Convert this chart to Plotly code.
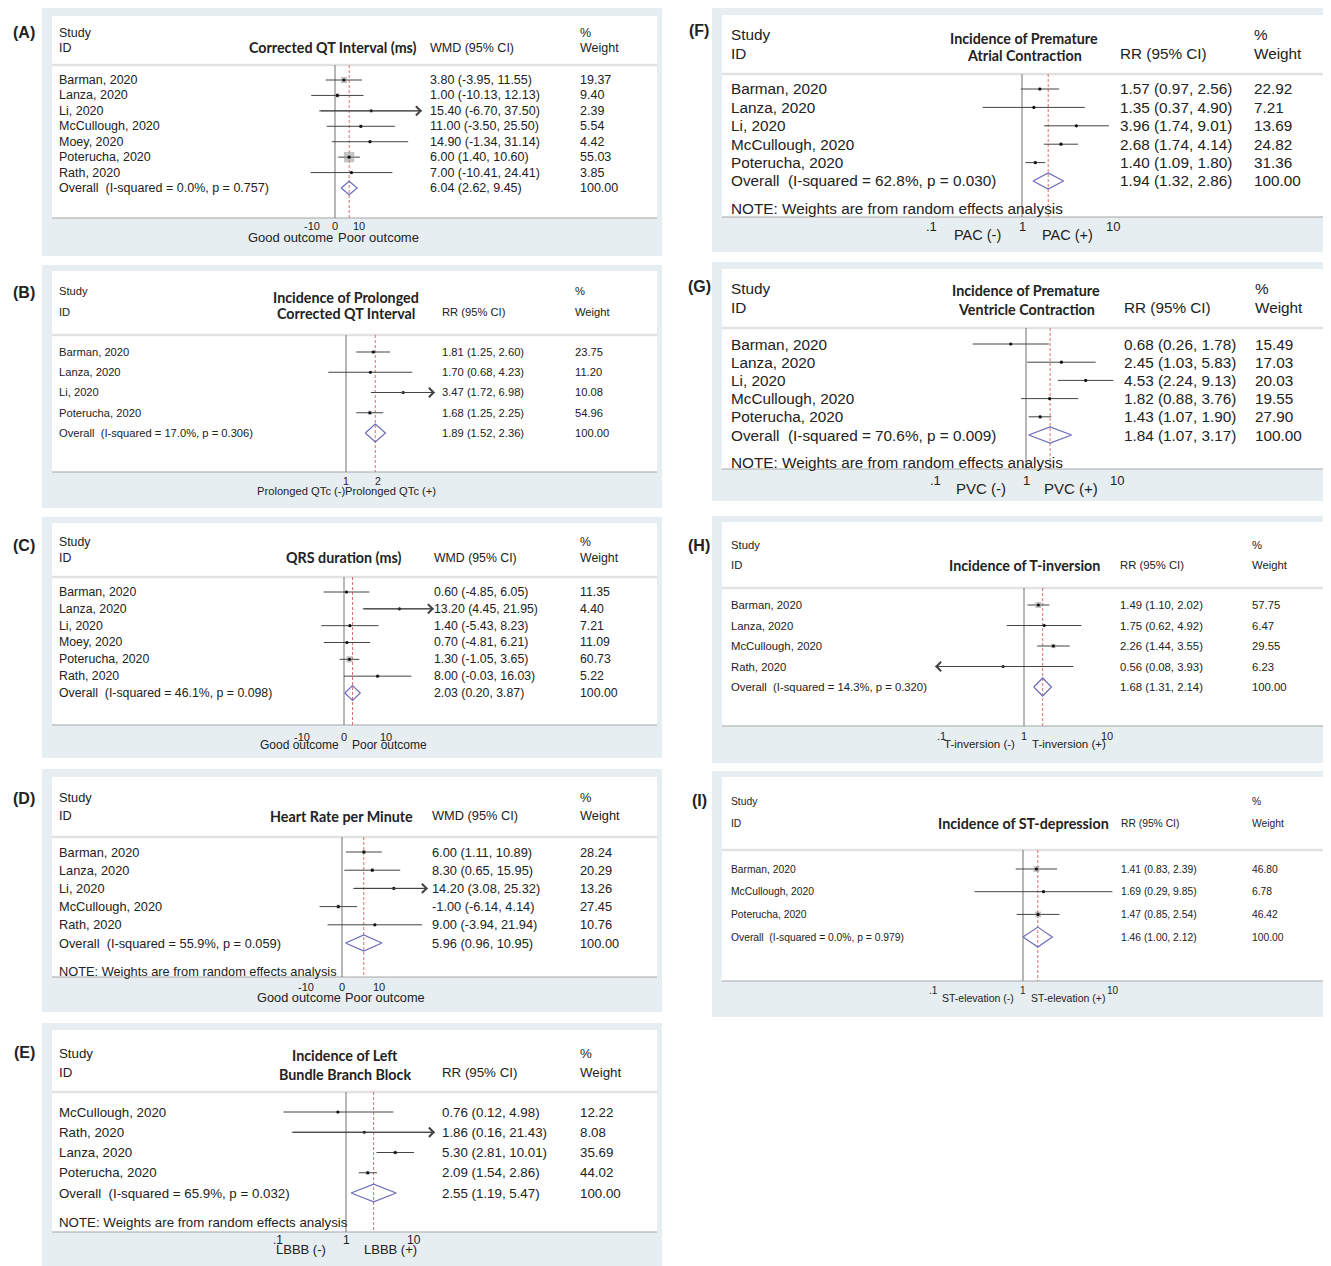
import math
import plotly.graph_objects as go

# ------------------------------------------------------------------ data
studies_A = ["Barman, 2020", "Lanza, 2020", "Li, 2020", "McCullough, 2020", "Moey, 2020", "Poterucha, 2020", "Rath, 2020"]
est_A = [3.80, 1.00, 15.40, 11.00, 14.90, 6.00, 7.00]
lo_A = [-3.95, -10.13, -6.70, -3.50, -1.34, 1.40, -10.41]
hi_A = [11.55, 12.13, 37.50, 25.50, 31.14, 10.60, 24.41]
wt_A = [19.37, 9.40, 2.39, 5.54, 4.42, 55.03, 3.85]
overall_A = [6.04, 2.62, 9.45]
i2_A, p_A = 0.0, 0.757

studies_B = ["Barman, 2020", "Lanza, 2020", "Li, 2020", "Poterucha, 2020"]
est_B = [1.81, 1.70, 3.47, 1.68]
lo_B = [1.25, 0.68, 1.72, 1.25]
hi_B = [2.60, 4.23, 6.98, 2.25]
wt_B = [23.75, 11.20, 10.08, 54.96]
overall_B = [1.89, 1.52, 2.36]
i2_B, p_B = 17.0, 0.306

studies_C = ["Barman, 2020", "Lanza, 2020", "Li, 2020", "Moey, 2020", "Poterucha, 2020", "Rath, 2020"]
est_C = [0.60, 13.20, 1.40, 0.70, 1.30, 8.00]
lo_C = [-4.85, 4.45, -5.43, -4.81, -1.05, -0.03]
hi_C = [6.05, 21.95, 8.23, 6.21, 3.65, 16.03]
wt_C = [11.35, 4.40, 7.21, 11.09, 60.73, 5.22]
overall_C = [2.03, 0.20, 3.87]
i2_C, p_C = 46.1, 0.098

studies_D = ["Barman, 2020", "Lanza, 2020", "Li, 2020", "McCullough, 2020", "Rath, 2020"]
est_D = [6.00, 8.30, 14.20, -1.00, 9.00]
lo_D = [1.11, 0.65, 3.08, -6.14, -3.94]
hi_D = [10.89, 15.95, 25.32, 4.14, 21.94]
wt_D = [28.24, 20.29, 13.26, 27.45, 10.76]
overall_D = [5.96, 0.96, 10.95]
i2_D, p_D = 55.9, 0.059

studies_E = ["McCullough, 2020", "Rath, 2020", "Lanza, 2020", "Poterucha, 2020"]
est_E = [0.76, 1.86, 5.30, 2.09]
lo_E = [0.12, 0.16, 2.81, 1.54]
hi_E = [4.98, 21.43, 10.01, 2.86]
wt_E = [12.22, 8.08, 35.69, 44.02]
overall_E = [2.55, 1.19, 5.47]
i2_E, p_E = 65.9, 0.032

studies_F = ["Barman, 2020", "Lanza, 2020", "Li, 2020", "McCullough, 2020", "Poterucha, 2020"]
est_F = [1.57, 1.35, 3.96, 2.68, 1.40]
lo_F = [0.97, 0.37, 1.74, 1.74, 1.09]
hi_F = [2.56, 4.90, 9.01, 4.14, 1.80]
wt_F = [22.92, 7.21, 13.69, 24.82, 31.36]
overall_F = [1.94, 1.32, 2.86]
i2_F, p_F = 62.8, 0.030

studies_G = ["Barman, 2020", "Lanza, 2020", "Li, 2020", "McCullough, 2020", "Poterucha, 2020"]
est_G = [0.68, 2.45, 4.53, 1.82, 1.43]
lo_G = [0.26, 1.03, 2.24, 0.88, 1.07]
hi_G = [1.78, 5.83, 9.13, 3.76, 1.90]
wt_G = [15.49, 17.03, 20.03, 19.55, 27.90]
overall_G = [1.84, 1.07, 3.17]
i2_G, p_G = 70.6, 0.009

studies_H = ["Barman, 2020", "Lanza, 2020", "McCullough, 2020", "Rath, 2020"]
est_H = [1.49, 1.75, 2.26, 0.56]
lo_H = [1.10, 0.62, 1.44, 0.08]
hi_H = [2.02, 4.92, 3.55, 3.93]
wt_H = [57.75, 6.47, 29.55, 6.23]
overall_H = [1.68, 1.31, 2.14]
i2_H, p_H = 14.3, 0.320

studies_I = ["Barman, 2020", "McCullough, 2020", "Poterucha, 2020"]
est_I = [1.41, 1.69, 1.47]
lo_I = [0.83, 0.29, 0.85]
hi_I = [2.39, 9.85, 2.54]
wt_I = [46.80, 6.78, 46.42]
overall_I = [1.46, 1.00, 2.12]
i2_I, p_I = 0.0, 0.979

measures = {"A": "WMD", "B": "RR", "C": "WMD", "D": "WMD", "E": "RR", "F": "RR", "G": "RR", "H": "RR", "I": "RR"}
titles = {
    "A": ["Corrected QT Interval (ms)"],
    "B": ["Incidence of Prolonged", "Corrected QT Interval"],
    "C": ["QRS duration (ms)"],
    "D": ["Heart Rate per Minute"],
    "E": ["Incidence of Left", "Bundle Branch Block"],
    "F": ["Incidence of Premature", "Atrial Contraction"],
    "G": ["Incidence of Premature", "Ventricle Contraction"],
    "H": ["Incidence of T-inversion"],
    "I": ["Incidence of ST-depression"],
}
favours = {
    "A": ["Good outcome", "Poor outcome"],
    "B": ["Prolonged QTc (-)", "Prolonged QTc (+)"],
    "C": ["Good outcome", "Poor outcome"],
    "D": ["Good outcome", "Poor outcome"],
    "E": ["LBBB (-)", "LBBB (+)"],
    "F": ["PAC (-)", "PAC (+)"],
    "G": ["PVC (-)", "PVC (+)"],
    "H": ["T-inversion (-)", "T-inversion (+)"],
    "I": ["ST-elevation (-)", "ST-elevation (+)"],
}
tick_vals = {
    "A": [-10, 0, 10], "B": [1, 2], "C": [-10, 0, 10], "D": [-10, 0, 10],
    "E": [0.1, 1, 10], "F": [0.1, 1, 10], "G": [0.1, 1, 10], "H": [0.1, 1, 10], "I": [0.1, 1, 10],
}
tick_text = {
    "A": ["-10", "0", "10"], "B": ["1", "2"], "C": ["-10", "0", "10"], "D": ["-10", "0", "10"],
    "E": [".1", "1", "10"], "F": [".1", "1", "10"], "G": [".1", "1", "10"], "H": [".1", "1", "10"], "I": [".1", "1", "10"],
}
note_text = "NOTE: Weights are from random effects analysis"

DATA = {
    "A": (studies_A, est_A, lo_A, hi_A, wt_A, overall_A, i2_A, p_A),
    "B": (studies_B, est_B, lo_B, hi_B, wt_B, overall_B, i2_B, p_B),
    "C": (studies_C, est_C, lo_C, hi_C, wt_C, overall_C, i2_C, p_C),
    "D": (studies_D, est_D, lo_D, hi_D, wt_D, overall_D, i2_D, p_D),
    "E": (studies_E, est_E, lo_E, hi_E, wt_E, overall_E, i2_E, p_E),
    "F": (studies_F, est_F, lo_F, hi_F, wt_F, overall_F, i2_F, p_F),
    "G": (studies_G, est_G, lo_G, hi_G, wt_G, overall_G, i2_G, p_G),
    "H": (studies_H, est_H, lo_H, hi_H, wt_H, overall_H, i2_H, p_H),
    "I": (studies_I, est_I, lo_I, hi_I, wt_I, overall_I, i2_I, p_I),
}

# ------------------------------------------------------------------ geometry / style (page pixels)
PAGE_OFF = 8                       # default body margin of the html page
W, H = 1331 - PAGE_OFF, 1266 - PAGE_OFF
L_BOX, L_WHITE, R_BOX, R_WHITE = (42, 662), (52, 657), (712, 1331), (722, 1326)
STYLE = {
    "A": dict(col="L", by=(8, 256), wy=(16, 218), lab=33, h1=33, h2=48, ty=[48], tx=333, sep=65,
              r0=80, dy=15.43, note=None, tick_y=226, fav_y=237, cx=428, wx=578, fs=12.5,
              tkfs=11, ffs=13, null=335, scale=2.35, left=246, right=422, sq=1.4, log=False),
    "B": dict(col="L", by=(265, 508), wy=(271, 472), lab=292, h1=291, h2=312, ty=[297, 314], tx=346, sep=335,
              r0=352, dy=20.25, note=None, tick_y=481, fav_y=491, cx=440, wx=573, fs=11.2,
              tkfs=10.5, ffs=11.2, null=346, scale=105.9, left=257, right=435, sq=0.55, log=True),
    "C": dict(col="L", by=(517, 758), wy=(523, 725), lab=545, h1=542, h2=558, ty=[558], tx=343, sep=577,
              r0=592, dy=16.83, note=None, tick_y=737, fav_y=745, cx=432, wx=578, fs=12.3,
              tkfs=11, ffs=12, null=344, scale=4.2, left=254, right=434, sq=0.8, log=False),
    "D": dict(col="L", by=(769, 1012), wy=(777, 977), lab=798, h1=797, h2=815, ty=[816], tx=342, sep=837,
              r0=852, dy=18.2, note=971, tick_y=987, fav_y=997, cx=430, wx=578, fs=12.8,
              tkfs=11, ffs=12.8, null=342, scale=3.65, left=256, right=428, sq=0.75, log=False),
    "E": dict(col="L", by=(1023, 1266), wy=(1030, 1232), lab=1052, h1=1053, h2=1072, ty=[1055, 1074], tx=345, sep=1092,
              r0=1112, dy=20.25, note=1222, tick_y=1240, fav_y=1249, cx=440, wx=578, fs=13.3,
              tkfs=12, ffs=13, null=346, scale=68, left=256, right=435, sq=0.6, log=True),
    "F": dict(col="R", by=(8, 252), wy=(15, 217), lab=31, h1=35, h2=53, ty=[38, 56], tx=1024, sep=74,
              r0=89, dy=18.4, note=208, tick_y=226, fav_y=235, cx=1118, wx=1252, fs=15.3,
              tkfs=13, ffs=14.5, null=1022, scale=91, left=932, right=1112, sq=0.6, log=True),
    "G": dict(col="R", by=(262, 501), wy=(269, 469), lab=287, h1=289, h2=307, ty=[291, 310], tx=1026, sep=328,
              r0=344, dy=18.2, note=462, tick_y=480, fav_y=489, cx=1122, wx=1253, fs=15.3,
              tkfs=13, ffs=15, null=1026, scale=91, left=936, right=1116, sq=0.6, log=True),
    "H": dict(col="R", by=(516, 763), wy=(522, 726), lab=545, h1=545, h2=565, ty=[565], tx=1024, sep=588,
              r0=605, dy=20.5, note=None, tick_y=736, fav_y=744, cx=1118, wx=1250, fs=11.3,
              tkfs=11, ffs=11.5, null=1024, scale=83, left=935, right=1114, sq=0.8, log=True),
    "I": dict(col="R", by=(771, 1017), wy=(777, 981), lab=800, h1=801, h2=823, ty=[823], tx=1023, sep=850,
              r0=869, dy=22.7, note=None, tick_y=990, fav_y=998, cx=1119, wx=1250, fs=10.3,
              tkfs=10, ffs=10.5, null=1023, scale=90, left=933, right=1113, sq=0.85, log=True),
}

BODY_FONT = "Liberation Sans, Arial, sans-serif"
TITLE_FONT = "Lato, Open Sans, sans-serif"
TXT = "#222222"
BG_GRAY = "#e7eef1"
CI_COL = "#444444"
SQ_COL = "rgba(150,150,150,0.8)"
DIA_COL = "#6c6cbc"
RED = "#d46060"
NULL_COL = "#707070"


def px(x):
    return (x - PAGE_OFF) / W


def py(y):
    return 1 - (y - PAGE_OFF) / H


fig = go.Figure()
shapes, annotations, axes = [], [], {}

for k, key in enumerate(["A", "B", "C", "D", "E", "F", "G", "H", "I"], start=1):
    s = STYLE[key]
    studies, est, lo, hi, wt, ov, i2, pv = DATA[key]
    n = len(studies)
    box_x = L_BOX if s["col"] == "L" else R_BOX
    white_x = L_WHITE if s["col"] == "L" else R_WHITE
    nx = 57 if s["col"] == "L" else 729
    xa = "x" if k == 1 else f"x{k}"
    ya = "y" if k == 1 else f"y{k}"
    log = s["log"]

    # axis spans the whole white area; the forest clip limits come from left/right
    amin = (white_x[0] - s["null"]) / s["scale"]
    amax = (white_x[1] - s["null"]) / s["scale"]
    rmin = (s["left"] - s["null"]) / s["scale"]
    rmax = (s["right"] - s["null"]) / s["scale"]
    if log:
        xmin, xmax = 10 ** rmin, 10 ** rmax
        nullv = 1
    else:
        xmin, xmax = rmin, rmax
        nullv = 0

    def apos(v):  # annotation position on axis
        return math.log10(v) if log else v

    def vrow(p):
        return (p - s["r0"]) / s["dy"]

    axes["xaxis" if k == 1 else f"xaxis{k}"] = dict(
        domain=[px(white_x[0]), px(white_x[1])], range=[amin, amax], type="log" if log else "linear",
        anchor=ya, visible=False, fixedrange=True)
    axes["yaxis" if k == 1 else f"yaxis{k}"] = dict(
        domain=[py(s["by"][1]), py(s["wy"][0])], range=[vrow(s["by"][1]), vrow(s["wy"][0])],
        anchor=xa, visible=False, fixedrange=True)

    # backgrounds
    shapes.append(dict(type="rect", xref="paper", yref="paper", layer="below",
                       x0=px(box_x[0]), x1=px(box_x[1]), y0=py(s["by"][1]), y1=py(s["by"][0]),
                       fillcolor=BG_GRAY, line=dict(width=0)))
    shapes.append(dict(type="rect", xref="paper", yref="paper", layer="below",
                       x0=px(white_x[0]), x1=px(white_x[1]), y0=py(s["wy"][1]), y1=py(s["wy"][0]),
                       fillcolor="white", line=dict(width=0)))
    shapes.append(dict(type="line", xref="paper", yref="paper", layer="below",
                       x0=px(white_x[0]), x1=px(white_x[1]), y0=py(s["sep"]), y1=py(s["sep"]),
                       line=dict(color="#e2e2e2", width=2.5)))
    shapes.append(dict(type="line", xref="paper", yref="paper", layer="below",
                       x0=px(white_x[0]), x1=px(white_x[1]), y0=py(s["wy"][1]), y1=py(s["wy"][1]),
                       line=dict(color="#a5a5a5", width=1.2)))

    # null line and overall dashed line
    fig.add_trace(go.Scatter(x=[nullv, nullv], y=[vrow(s["sep"]), vrow(s["wy"][1])], mode="lines",
                             line=dict(color=NULL_COL, width=1), xaxis=xa, yaxis=ya,
                             hoverinfo="skip", showlegend=False))
    fig.add_trace(go.Scatter(x=[ov[0], ov[0]], y=[vrow(s["sep"]), vrow(s["wy"][1])], mode="lines",
                             line=dict(color=RED, width=0.9, dash="3px,2px"), xaxis=xa, yaxis=ya,
                             hoverinfo="skip", showlegend=False))

    # CI lines (clipped to the range) and arrows for clipped ends
    cx_, cy_ = [], []
    for i in range(n):
        l_c = max(lo[i], xmin)
        h_c = min(hi[i], xmax)
        cx_ += [l_c, h_c, None]
        cy_ += [i, i, None]
        if hi[i] > xmax:
            annotations.append(dict(x=apos(xmax), y=i, ax=apos(l_c), ay=i, xref=xa, yref=ya,
                                    axref=xa, ayref=ya, text="", showarrow=True, arrowhead=4,
                                    arrowsize=1.8, arrowwidth=1, arrowcolor=CI_COL))
        if lo[i] < xmin:
            annotations.append(dict(x=apos(xmin), y=i, ax=apos(h_c), ay=i, xref=xa, yref=ya,
                                    axref=xa, ayref=ya, text="", showarrow=True, arrowhead=4,
                                    arrowsize=1.8, arrowwidth=1, arrowcolor=CI_COL))
    fig.add_trace(go.Scatter(x=cx_, y=cy_, mode="lines", line=dict(color=CI_COL, width=1),
                             xaxis=xa, yaxis=ya, hoverinfo="skip", showlegend=False))
    # weight squares
    fig.add_trace(go.Scatter(x=est, y=list(range(n)), mode="markers",
                             marker=dict(symbol="square", size=[s["sq"] * math.sqrt(w) for w in wt],
                                         color=SQ_COL, line=dict(width=0)),
                             xaxis=xa, yaxis=ya, hoverinfo="skip", showlegend=False))
    # point estimates
    fig.add_trace(go.Scatter(x=est, y=list(range(n)), mode="markers",
                             marker=dict(symbol="circle", size=3.2, color="#111111"),
                             xaxis=xa, yaxis=ya, hoverinfo="skip", showlegend=False))
    # overall diamond
    hh = 0.44
    fig.add_trace(go.Scatter(x=[ov[1], ov[0], ov[2], ov[0], ov[1]], y=[n, n - hh, n, n + hh, n],
                             mode="lines", line=dict(color=DIA_COL, width=1.2),
                             xaxis=xa, yaxis=ya, hoverinfo="skip", showlegend=False))

    def txt(x, y, text, size, yref="paper", xanchor="left", family=BODY_FONT, xref="paper"):
        annotations.append(dict(x=x, y=y, xref=xref, yref=yref, text=text, showarrow=False,
                                xanchor=xanchor, yanchor="middle",
                                font=dict(size=size, family=family, color=TXT)))

    # panel label
    lab_x = 24 if s["col"] == "L" else 699
    txt(px(lab_x), py(s["lab"]), f"<b>({key})</b>", 16, xanchor="center")
    # header
    fs = s["fs"]
    txt(px(nx), py(s["h1"]), "Study", fs)
    txt(px(nx), py(s["h2"]), "ID", fs)
    txt(px(s["cx"]), py(s["h2"]), f"{measures[key]} (95% CI)", fs)
    txt(px(s["wx"]), py(s["h1"]), "%", fs)
    txt(px(s["wx"]), py(s["h2"]), "Weight", fs)
    for ty, line in zip(s["ty"], titles[key]):
        txt(px(s["tx"]), py(ty), f"<b>{line}</b>", 14.3, xanchor="center", family=TITLE_FONT)

    # rows
    for i in range(n):
        txt(px(nx), i, studies[i], fs, yref=ya)
        txt(px(s["cx"]), i, f"{est[i]:.2f} ({lo[i]:.2f}, {hi[i]:.2f})", fs, yref=ya)
        txt(px(s["wx"]), i, f"{wt[i]:.2f}", fs, yref=ya)
    txt(px(nx), n, f"Overall\u00a0 (I-squared = {i2:.1f}%, p = {pv:.3f})", fs, yref=ya)
    txt(px(s["cx"]), n, f"{ov[0]:.2f} ({ov[1]:.2f}, {ov[2]:.2f})", fs, yref=ya)
    txt(px(s["wx"]), n, "100.00", fs, yref=ya)
    if s["note"] is not None:
        txt(px(nx), py(s["note"]), note_text, fs)

    # tick labels
    for tv, tt in zip(tick_vals[key], tick_text[key]):
        txt(apos(tv), py(s["tick_y"]), tt, s["tkfs"], xanchor="center", xref=xa)
    # favours labels centred on each half of the clipped range
    if log:
        left_mid, right_mid = rmin / 2, rmax / 2
    else:
        left_mid, right_mid = xmin / 2, xmax / 2
    txt(left_mid, py(s["fav_y"]), favours[key][0], s["ffs"], xanchor="center", xref=xa)
    txt(right_mid, py(s["fav_y"]), favours[key][1], s["ffs"], xanchor="center", xref=xa)

fig.update_layout(
    width=W, height=H, margin=dict(l=0, r=0, t=0, b=0),
    paper_bgcolor="white", plot_bgcolor="rgba(0,0,0,0)",
    font=dict(family=BODY_FONT, color=TXT),
    shapes=shapes, annotations=annotations, showlegend=False,
    **axes,
)
fig.write_html("out.html")
